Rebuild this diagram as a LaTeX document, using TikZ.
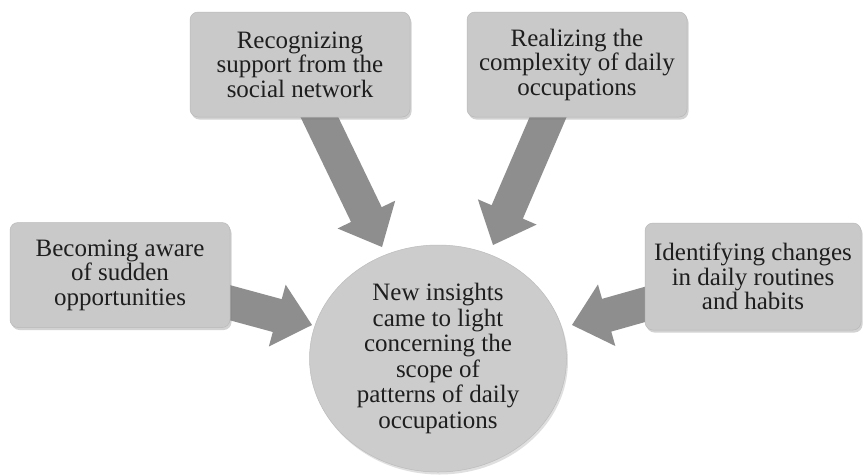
\documentclass[tikz,border=0pt]{standalone}
\usepackage{fontspec}
\setmainfont{Liberation Serif}
\usetikzlibrary{shapes.geometric,shadows,calc,backgrounds}
\definecolor{boxgray}{HTML}{C9C9C9}
\definecolor{circgray}{HTML}{CCCCCC}
\definecolor{arrowgray}{HTML}{8E8E8E}
\definecolor{txtcol}{HTML}{1E1E1E}
\newcommand\blockarrow[2]{%
  \path ($(#2)!36pt!(#1)$) coordinate (#1b);
  \fill[arrowgray] ($(#1)!17pt!90:(#2)$) -- ($(#1b)!17pt!-90:(#1)$) -- ($(#1b)!32pt!-90:(#1)$) -- (#2)
    -- ($(#1b)!32pt!90:(#1)$) -- ($(#1b)!17pt!90:(#1)$) -- ($(#1)!17pt!-90:(#2)$) -- cycle;
}
\tikzset{
  infobox/.style={rectangle, rounded corners=8pt, fill=boxgray, draw=boxgray!92!black, line width=0.5pt,
    minimum width=220pt, minimum height=105pt, align=center, text=txtcol, inner sep=0pt,
    font=\fontsize{25}{24.5}\selectfont,
    drop shadow={shadow xshift=1.5pt, shadow yshift=-2.5pt, opacity=0.35}},
  hub/.style={ellipse, fill=circgray, draw=circgray!92!black, line width=0.5pt,
    minimum width=257pt, minimum height=227pt, align=center, text=txtcol, inner sep=0pt,
    font=\fontsize{25}{25.5}\selectfont,
    drop shadow={shadow xshift=1.5pt, shadow yshift=-2.5pt, opacity=0.25}}
}
\begin{document}
\begin{tikzpicture}[x=1pt,y=-1pt]
\useasboundingbox (0,0) rectangle (863,475);
\node[infobox] (left) at (120,275) {Becoming aware\\of sudden\\opportunities};
\node[infobox] (tl) at (300,64.5) {Recognizing\\support from the\\social network};
\node[infobox] (tr) at (577,64.5) {Realizing the\\complexity of daily\\occupations};
\node[infobox, minimum width=216pt, minimum height=107pt] (right) at (753,276.5) {Identifying changes\\in daily routines\\and habits};
\node[hub] (hub) at (438,358.5) {New insights\\came to light\\concerning the\\scope of\\patterns of daily\\occupations};
\coordinate (lS) at (220,300);
\coordinate (lT) at (312,325);
\coordinate (tlS) at (315,108);
\coordinate (tlT) at (382,247);
\coordinate (trS) at (552,108);
\coordinate (trT) at (493,245);
\coordinate (rS) at (657,301);
\coordinate (rT) at (572,325);
\begin{scope}[on background layer]
  \fill[white] (0,0) rectangle (863,475);
  \blockarrow{lS}{lT}
  \blockarrow{tlS}{tlT}
  \blockarrow{trS}{trT}
  \blockarrow{rS}{rT}
\end{scope}
\end{tikzpicture}
\end{document}
